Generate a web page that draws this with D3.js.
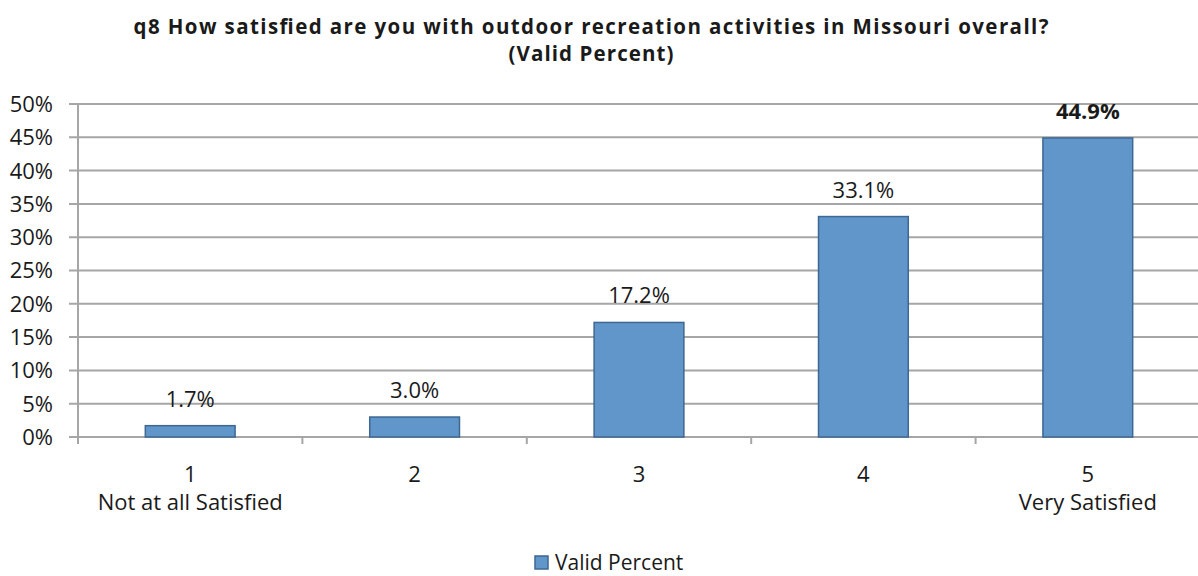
<!DOCTYPE html>
<html>
<head>
<meta charset="utf-8">
<script src="https://cdn.jsdelivr.net/npm/d3@7/dist/d3.min.js"></script>
<style>
  body { margin: 0; background: #fff; }
  svg { display: block; }
  text { font-family: "Open Sans", "Liberation Sans", sans-serif; fill: #1a1a1a; }
</style>
</head>
<body>
<svg id="chart" width="1198" height="576"></svg>
<script>
// Survey responses, q8
const categories = ["1", "2", "3", "4", "5"];
const categoryNotes = ["Not at all Satisfied", "", "", "", "Very Satisfied"];
const validPercent = [1.7, 3.0, 17.2, 33.1, 44.9];
const yTicks = [0, 5, 10, 15, 20, 25, 30, 35, 40, 45, 50];
const seriesName = "Valid Percent";
const titleLines = ["q8 How satisfied are you with outdoor recreation activities in Missouri overall?", "(Valid Percent)"];

const svg = d3.select("#chart");
const plotLeft = 78, plotRight = 1200, plotTop = 104, plotBottom = 437;
const labelSize = "22px";

const x = d3.scaleBand().domain(categories).range([plotLeft, plotRight]).paddingInner(0.6).paddingOuter(0.3);
const xEdge = d3.scaleBand().domain(categories).range([plotLeft, plotRight]);
const y = d3.scaleLinear().domain([0, 50]).range([plotBottom, plotTop]);

const grid = "#a6a6a6";

// Title, two centred lines
const titleWidths = [915, 165];
svg.append("g").selectAll("text").data(titleLines).join("text")
  .attr("x", 591).attr("y", (d, i) => 34 + i * 27)
  .attr("text-anchor", "middle")
  .attr("textLength", (d, i) => titleWidths[i])
  .attr("lengthAdjust", "spacing")
  .style("font-weight", "bold").style("font-size", "20.5px")
  .text(d => d);

// Horizontal gridlines
svg.append("g").selectAll("line").data(yTicks).join("line")
  .attr("x1", plotLeft - 9).attr("x2", plotRight)
  .attr("y1", d => y(d)).attr("y2", d => y(d))
  .attr("stroke", grid).attr("stroke-width", 2);

// Y axis line
svg.append("line").attr("x1", plotLeft).attr("x2", plotLeft)
  .attr("y1", plotTop).attr("y2", plotBottom + 7)
  .attr("stroke", grid).attr("stroke-width", 2);

// Category tick marks at band edges
svg.append("g").selectAll("line").data(categories.slice(1)).join("line")
  .attr("x1", d => xEdge(d)).attr("x2", d => xEdge(d))
  .attr("y1", plotBottom).attr("y2", plotBottom + 7)
  .attr("stroke", grid).attr("stroke-width", 2);

// Y tick labels
svg.append("g").selectAll("text").data(yTicks).join("text")
  .attr("x", 53).attr("y", d => y(d))
  .attr("dy", "0.36em").attr("text-anchor", "end")
  .style("font-size", labelSize)
  .text(d => d + "%");

// Bars
svg.append("g").selectAll("rect").data(validPercent).join("rect")
  .attr("x", (d, i) => x(categories[i]))
  .attr("width", x.bandwidth())
  .attr("y", d => y(d))
  .attr("height", d => y(0) - y(d))
  .attr("fill", "#6096c9")
  .attr("stroke", "#3e6792").attr("stroke-width", 1.5);

// Value labels
svg.append("g").selectAll("text").data(validPercent).join("text")
  .attr("x", (d, i) => x(categories[i]) + x.bandwidth() / 2)
  .attr("y", d => y(d) - 19)
  .attr("text-anchor", "middle")
  .style("font-size", labelSize)
  .style("font-weight", (d, i) => i === validPercent.length - 1 ? "bold" : "normal")
  .text(d => d.toFixed(1) + "%");

// Category labels
const cat = svg.append("g").selectAll("g").data(categories).join("g")
  .attr("transform", d => `translate(${x(d) + x.bandwidth() / 2},0)`);
cat.append("text").attr("y", 482).attr("text-anchor", "middle")
  .style("font-size", labelSize).text(d => d);
cat.append("text").attr("y", 510).attr("text-anchor", "middle")
  .style("font-size", labelSize).text((d, i) => categoryNotes[i]);

// Legend
const lg = svg.append("g").attr("transform", "translate(535,556)");
lg.append("rect").attr("width", 13).attr("height", 13)
  .attr("fill", "#6096c9").attr("stroke", "#3e6792").attr("stroke-width", 1.5);
lg.append("text").attr("x", 20).attr("y", 14)
  .style("font-size", "21px").text(seriesName);
</script>
</body>
</html>
